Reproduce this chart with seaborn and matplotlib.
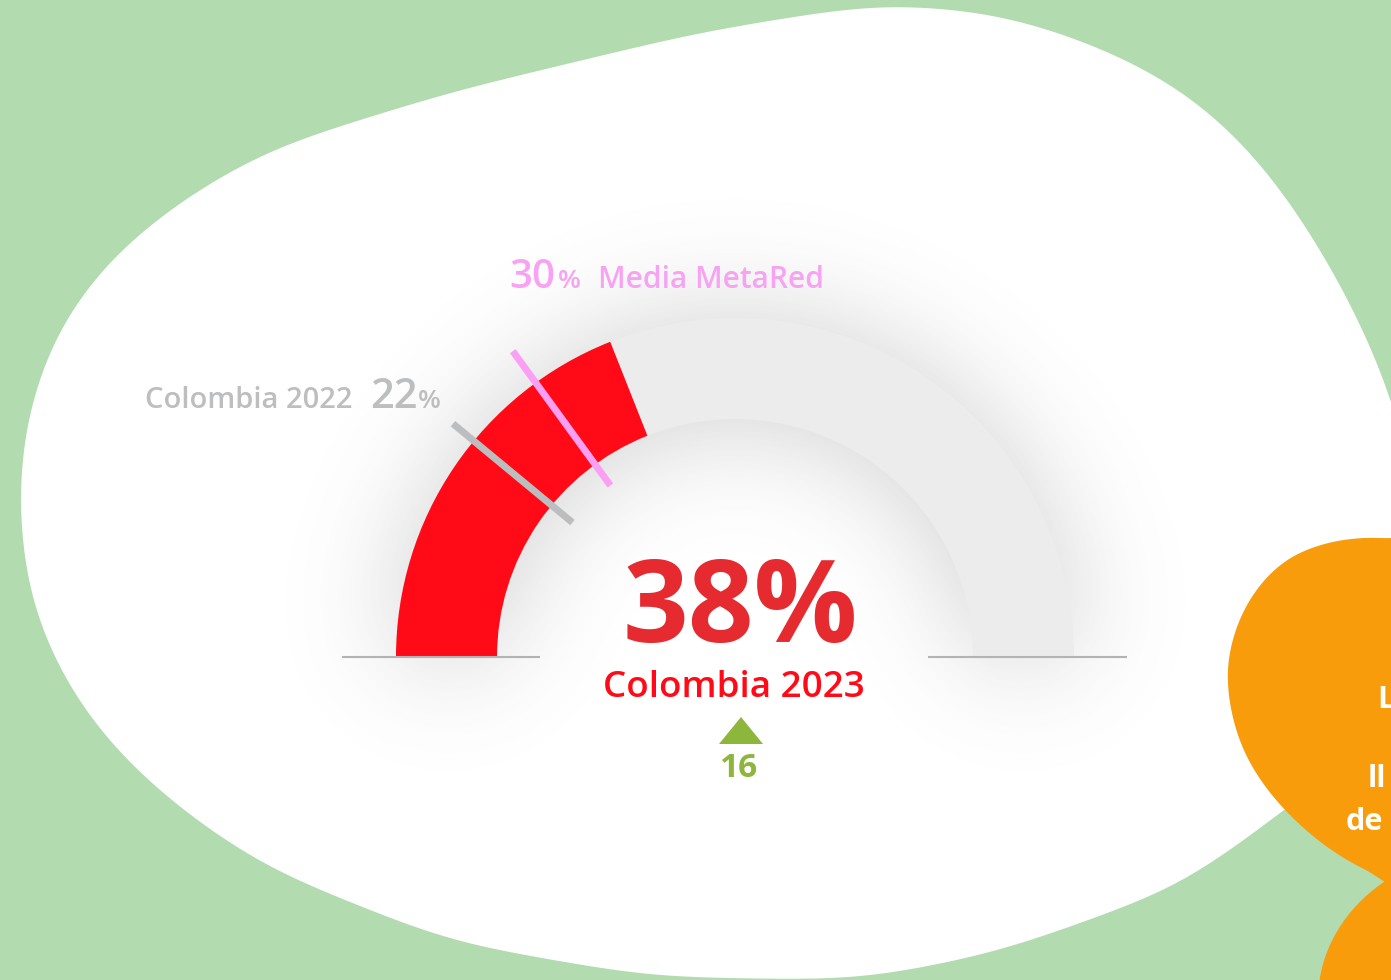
import numpy as np
import matplotlib
matplotlib.use("Agg")
import matplotlib.pyplot as plt
from matplotlib.patches import Wedge, Polygon, Ellipse
import seaborn as sns

# gauge data (percent)
current_label = "Colombia 2023"
current_value = 38
prev_label = "Colombia 2022"
prev_value = 22
avg_label = "Media MetaRed"
avg_value = 30
change = 16

W, H = 1391, 980
CX, CY = 735, 657          # gauge centre in pixel coords (y down)
R_OUT, R_IN = 339, 238

RED = "#ff0a16"
RED_TXT = "#e52b30"
GREY_ARC = "#ececec"
GREY_TXT = "#bdbec0"
PINK = "#f7a2f3"
GREEN_BG = "#b3dbb0"
ORANGE = "#f89c0c"
GREEN = "#8db63c"


def smooth_blob(pts, n=2000, sigma=25):
    """Resample a closed polyline evenly and smooth it circularly."""
    p = np.asarray(pts, float)
    p = np.vstack([p, p[:1]])
    seg = np.hypot(*np.diff(p, axis=0).T)
    s = np.concatenate([[0], np.cumsum(seg)])
    t = np.linspace(0, s[-1], n, endpoint=False)
    x = np.interp(t, s, p[:, 0])
    y = np.interp(t, s, p[:, 1])
    k = np.arange(-3 * sigma, 3 * sigma + 1)
    g = np.exp(-0.5 * (k / sigma) ** 2)
    g /= g.sum()
    idx = (np.arange(n)[:, None] + k[None, :]) % n
    return np.column_stack([(x[idx] * g).sum(1), (y[idx] * g).sum(1)])


def closed_spline(pts, n=40):
    """Catmull-Rom closed curve through pts."""
    p = np.asarray(pts, float)
    out = []
    m = len(p)
    for i in range(m):
        p0, p1, p2, p3 = p[i - 1], p[i], p[(i + 1) % m], p[(i + 2) % m]
        t = np.linspace(0, 1, n, endpoint=False)[:, None]
        seg = 0.5 * ((2 * p1) + (-p0 + p2) * t + (2 * p0 - 5 * p1 + 4 * p2 - p3) * t ** 2
                     + (-p0 + 3 * p1 - 3 * p2 + p3) * t ** 3)
        out.append(seg)
    return np.vstack(out)


def frac_to_deg(v):
    return 180 - v / 100 * 180


sns.set_theme(style="white")
plt.rcParams["font.family"] = ["Open Sans", "DejaVu Sans"]

fig = plt.figure(figsize=(W / 100, H / 100), dpi=100)
fig.patch.set_facecolor(GREEN_BG)
ax = fig.add_axes([0, 0, 1, 1])
ax.set_xlim(0, W)
ax.set_ylim(H, 0)
ax.set_facecolor(GREEN_BG)
ax.axis("off")

# white blob
white_pts = [(17, 500), (25, 417), (55, 330), (108, 258), (183, 198), (270, 148),
             (450, 92), (700, 32), (880, 3), (1000, 13), (1100, 46), (1183, 88),
             (1250, 148), (1300, 215), (1350, 300), (1393, 397), (1440, 600),
             (1400, 720), (1285, 810), (1180, 887), (1000, 952), (860, 980),
             (650, 977), (450, 942), (267, 869), (183, 812), (115, 752),
             (65, 685), (28, 600)]
ax.add_patch(Polygon(smooth_blob(white_pts), closed=True, fc="white", ec="none", zorder=1))

# soft shadow around the gauge
yy, xx = np.mgrid[0:H, 0:W]
rr = np.hypot(xx - CX, yy - CY)
mask = ((rr >= R_IN) & (rr <= R_OUT) & (yy <= CY)).astype(float)
fy = np.fft.fftfreq(H)[:, None]
fx = np.fft.rfftfreq(W)[None, :]
sigma = 55
blur = np.fft.irfft2(np.fft.rfft2(mask) * np.exp(-2 * np.pi ** 2 * sigma ** 2 * (fx ** 2 + fy ** 2)), s=(H, W))
blur = np.clip(blur, 0, 1)
shadow = np.zeros((H, W, 4))
shadow[..., :3] = 0.35
shadow[..., 3] = 0.3 * blur
ax.imshow(shadow, extent=(0, W, H, 0), zorder=2, interpolation="bilinear")

# gauge arcs (y axis is inverted, so angles are mirrored)
end_deg = frac_to_deg(current_value)
ax.add_patch(Wedge((CX, CY), R_OUT, -end_deg, 0, width=R_OUT - R_IN, fc=GREY_ARC, ec="none", zorder=3))
ax.add_patch(Wedge((CX, CY), R_OUT, -180, -end_deg, width=R_OUT - R_IN, fc=RED, ec="none", zorder=4))

# baselines
ax.plot([342, 540], [CY, CY], color="#b3b3b3", lw=1.5, zorder=5, solid_capstyle="butt")
ax.plot([928, 1127], [CY, CY], color="#b3b3b3", lw=1.5, zorder=5, solid_capstyle="butt")

# reference markers
for val, col, r0, r1 in [(prev_value, "#bcbdbf", 211, 366), (avg_value, "#fb9ff4", 212, 378)]:
    a = np.deg2rad(frac_to_deg(val))
    ax.plot([CX + r0 * np.cos(a), CX + r1 * np.cos(a)],
            [CY - r0 * np.sin(a), CY - r1 * np.sin(a)],
            color=col, lw=5, solid_capstyle="butt", zorder=6)

# labels
ax.text(509, 288, f"{avg_value}", color=PINK, fontsize=29, fontweight="semibold", zorder=7)
ax.text(558, 288, "%", color=PINK, fontsize=19, fontweight="semibold", zorder=7)
ax.text(598, 288, avg_label, color=PINK, fontsize=21.5, fontweight="semibold", zorder=7)

ax.text(145, 408, prev_label, color=GREY_TXT, fontsize=21, fontweight="semibold", zorder=7)
ax.text(370, 408, f"{prev_value}", color=GREY_TXT, fontsize=30, fontweight="semibold", zorder=7)
ax.text(418, 408, "%", color=GREY_TXT, fontsize=19, fontweight="semibold", zorder=7)

ax.text(740, 642, f"{current_value}%", color=RED_TXT, fontsize=83, fontweight="bold",
        ha="center", va="baseline", zorder=7)
ax.text(734, 697, current_label, color=RED, fontsize=26.5, fontweight="semibold",
        ha="center", va="baseline", zorder=7)

ax.add_patch(Polygon([(719, 744), (763, 744), (741, 717)], closed=True, fc=GREEN, ec="none", zorder=7))
ax.text(739, 777, f"{change}", color=GREEN, fontsize=24, fontweight="bold",
        ha="center", va="baseline", zorder=7)

# orange blob on the right
orange_pts = [(1380, 538), (1300, 553), (1250, 600), (1228, 670), (1243, 748),
              (1290, 815), (1362, 868), (1460, 900), (1520, 720), (1480, 560)]
ax.add_patch(Polygon(closed_spline(orange_pts), closed=True, fc=ORANGE, ec="none", zorder=8))
ax.add_patch(Ellipse((1490, 1000), 344, 300, fc=ORANGE, ec="none", zorder=8))
ax.text(1377, 708, "L", color="white", fontsize=22, fontweight="bold", zorder=9)
ax.text(1368, 787, "ll", color="white", fontsize=22, fontweight="bold", zorder=9)
ax.text(1346, 830, "de", color="white", fontsize=22, fontweight="bold", zorder=9)

fig.savefig("out.png", dpi=100, facecolor=GREEN_BG)
